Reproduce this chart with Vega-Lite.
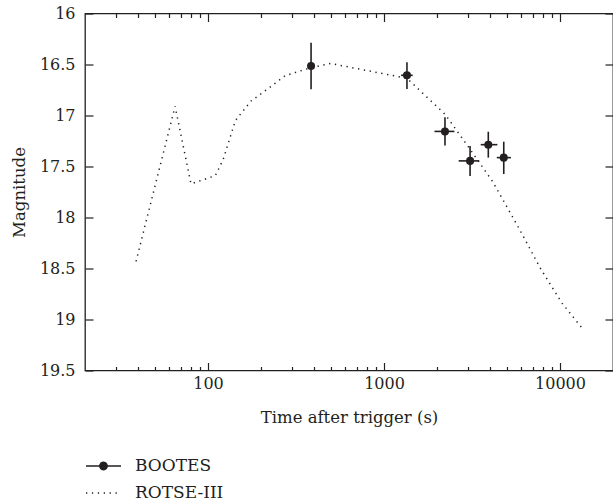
{
  "$schema": "https://vega.github.io/schema/vega-lite/v6.json",
  "width": 528,
  "height": 357,
  "autosize": {"type": "none"},
  "padding": {"left": 85, "top": 13.5, "right": 0, "bottom": 133.5},
  "background": "white",
  "config": {
    "font": "DejaVu Serif",
    "view": {"stroke": "#231f20", "strokeWidth": 1.3},
    "axis": {
      "grid": false,
      "domain": false,
      "tickColor": "#231f20",
      "tickWidth": 1.2,
      "labelFont": "DejaVu Serif",
      "titleFont": "DejaVu Serif",
      "labelFontSize": 16,
      "titleFontSize": 16.5,
      "labelColor": "#231f20",
      "titleColor": "#231f20",
      "titleFontWeight": "normal"
    },
    "legend": {"labelFont": "DejaVu Serif", "labelFontSize": 17, "labelColor": "#231f20"}
  },
  "datasets": {
    "rotse": [
      {"t": 39, "mag": 18.43, "series": "ROTSE-III"},
      {"t": 65, "mag": 16.91, "series": "ROTSE-III"},
      {"t": 80, "mag": 17.67, "series": "ROTSE-III"},
      {"t": 110, "mag": 17.59, "series": "ROTSE-III"},
      {"t": 122, "mag": 17.43, "series": "ROTSE-III"},
      {"t": 143, "mag": 17.05, "series": "ROTSE-III"},
      {"t": 175, "mag": 16.86, "series": "ROTSE-III"},
      {"t": 226, "mag": 16.72, "series": "ROTSE-III"},
      {"t": 274, "mag": 16.61, "series": "ROTSE-III"},
      {"t": 385, "mag": 16.53, "series": "ROTSE-III"},
      {"t": 497, "mag": 16.49, "series": "ROTSE-III"},
      {"t": 1350, "mag": 16.635, "series": "ROTSE-III"},
      {"t": 2227, "mag": 16.99, "series": "ROTSE-III"},
      {"t": 3022, "mag": 17.31, "series": "ROTSE-III"},
      {"t": 4150, "mag": 17.65, "series": "ROTSE-III"},
      {"t": 5862, "mag": 18.11, "series": "ROTSE-III"},
      {"t": 7745, "mag": 18.5, "series": "ROTSE-III"},
      {"t": 10260, "mag": 18.84, "series": "ROTSE-III"},
      {"t": 13430, "mag": 19.09, "series": "ROTSE-III"}
    ],
    "bootes": [
      {"t": 385, "mag": 16.515, "tlo": 385, "thi": 385, "mlo": 16.286, "mhi": 16.742},
      {"t": 1350, "mag": 16.606, "tlo": 1250, "thi": 1455, "mlo": 16.478, "mhi": 16.74},
      {"t": 2220, "mag": 17.156, "tlo": 1935, "thi": 2512, "mlo": 17.018, "mhi": 17.294},
      {"t": 3083, "mag": 17.445, "tlo": 2655, "thi": 3476, "mlo": 17.3, "mhi": 17.593},
      {"t": 3913, "mag": 17.286, "tlo": 3544, "thi": 4406, "mlo": 17.159, "mhi": 17.413},
      {"t": 4790, "mag": 17.413, "tlo": 4374, "thi": 5262, "mlo": 17.257, "mhi": 17.574}
    ]
  },
  "layer": [
    {
      "data": {"name": "rotse"},
      "mark": {"type": "line", "strokeWidth": 1.5, "color": "#231f20", "strokeCap": "butt"},
      "encoding": {
        "x": {
          "field": "t", "type": "quantitative",
          "scale": {"type": "log", "domain": [20, 20000], "nice": false},
          "axis": {"orient": "bottom", "offset": -8, "values": [100, 1000, 10000], "format": "d", "tickSize": 8, "labelPadding": 5, "title": "Time after trigger (s)", "titlePadding": 18}
        },
        "y": {
          "field": "mag", "type": "quantitative",
          "scale": {"domain": [16, 19.5], "reverse": true, "zero": false, "nice": false},
          "axis": {"orient": "left", "offset": -8, "values": [16, 16.5, 17, 17.5, 18, 18.5, 19, 19.5], "format": "~g", "tickSize": 8, "labelPadding": 10, "title": "Magnitude", "titlePadding": 12}
        },
        "strokeDash": {
          "field": "series", "type": "nominal",
          "scale": {"domain": ["BOOTES", "ROTSE-III"], "range": [[1, 0], [1.3, 4.6]]},
          "legend": {
            "title": null,
            "orient": "none",
            "legendX": 0,
            "legendY": 434,
            "direction": "vertical",
            "symbolSize": 1225,
            "symbolStrokeColor": "#231f20",
            "symbolStrokeWidth": 1.5,
            "labelOffset": 13,
            "rowPadding": -7,
            "encode": {
              "symbols": {
                "update": {
                  "shape": {"signal": "datum.value === 'BOOTES' ? 'M-1,0H1M-0.21,0A0.21,0.21,0,1,0,0.21,0A0.21,0.21,0,1,0,-0.21,0Z' : 'stroke'"},
                  "fill": {"signal": "datum.value === 'BOOTES' ? '#231f20' : 'transparent'"},
                  "stroke": {"value": "#231f20"},
                  "strokeWidth": {"value": 1.5},
                  "strokeOpacity": {"value": 1},
                  "strokeDash": {"signal": "datum.value === 'BOOTES' ? [1, 0] : [1.3, 4.4]"}
                }
              }
            }
          }
        }
      }
    },
    {
      "data": {"name": "bootes"},
      "mark": {"type": "rule", "strokeWidth": 1.6, "color": "#231f20"},
      "encoding": {
        "x": {
          "field": "t", "type": "quantitative",
          "scale": {"type": "log", "domain": [20, 20000], "nice": false},
          "axis": {"orient": "top", "offset": -8, "values": [100, 1000, 10000], "labels": false, "tickSize": 8, "title": null}
        },
        "y": {
          "field": "mlo", "type": "quantitative",
          "scale": {"domain": [16, 19.5], "reverse": true, "zero": false, "nice": false},
          "axis": {"orient": "right", "offset": -8, "values": [16, 16.5, 17, 17.5, 18, 18.5, 19, 19.5], "labels": false, "tickSize": 8, "title": null}
        },
        "y2": {"field": "mhi"}
      }
    },
    {
      "data": {"name": "bootes"},
      "mark": {"type": "rule", "strokeWidth": 1.6, "color": "#231f20"},
      "encoding": {
        "x": {
          "field": "tlo", "type": "quantitative",
          "scale": {"type": "log", "domain": [20, 20000], "nice": false},
          "axis": {"orient": "bottom", "offset": -4, "values": [30, 40, 50, 60, 70, 80, 90, 200, 300, 400, 500, 600, 700, 800, 900, 2000, 3000, 4000, 5000, 6000, 7000, 8000, 9000], "labels": false, "tickSize": 4, "title": null}
        },
        "x2": {"field": "thi"},
        "y": {
          "field": "mag", "type": "quantitative",
          "scale": {"domain": [16, 19.5], "reverse": true, "zero": false, "nice": false},
          "axis": null
        }
      }
    },
    {
      "data": {"name": "bootes"},
      "mark": {"type": "point", "filled": true, "size": 65, "opacity": 1, "color": "#231f20"},
      "encoding": {
        "x": {
          "field": "t", "type": "quantitative",
          "scale": {"type": "log", "domain": [20, 20000], "nice": false},
          "axis": {"orient": "top", "offset": -4, "values": [30, 40, 50, 60, 70, 80, 90, 200, 300, 400, 500, 600, 700, 800, 900, 2000, 3000, 4000, 5000, 6000, 7000, 8000, 9000], "labels": false, "tickSize": 4, "title": null}
        },
        "y": {
          "field": "mag", "type": "quantitative",
          "scale": {"domain": [16, 19.5], "reverse": true, "zero": false, "nice": false},
          "axis": null
        }
      }
    }
  ],
  "resolve": {"axis": {"x": "independent", "y": "independent"}}
}
